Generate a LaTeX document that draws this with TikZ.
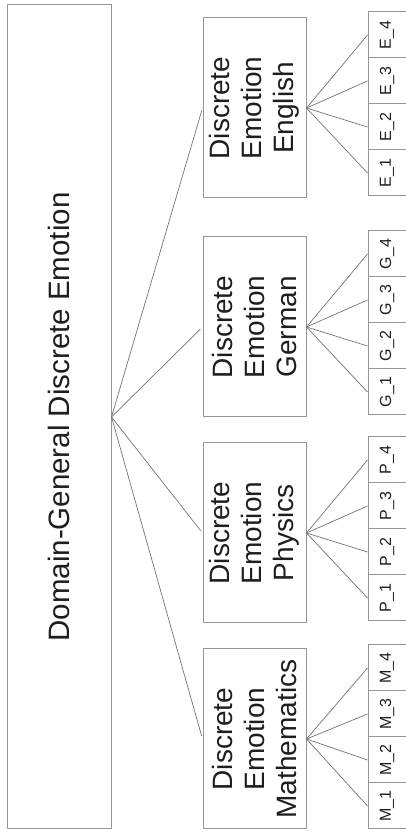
\documentclass[tikz,border=0pt]{standalone}
\usepackage{fontspec}
\setmainfont{Liberation Sans}
\definecolor{boxgray}{RGB}{150,150,150}
\definecolor{linegray}{RGB}{115,115,115}
\definecolor{txt}{RGB}{30,30,30}
\begin{document}
\begin{tikzpicture}[x=1pt,y=1pt,
  bigbox/.style={draw=boxgray,line width=1pt,minimum width=104pt,minimum height=824pt,inner sep=0pt},
  catbox/.style={draw=boxgray,line width=1pt,minimum width=103pt,minimum height=180pt,inner sep=0pt},
  itembox/.style={draw=boxgray,line width=1pt,minimum width=38pt,minimum height=46pt,inner sep=0pt},
  conn/.style={draw=linegray,line width=0.7pt},
  bigtxt/.style={rotate=90,align=center,text=txt,font=\fontsize{29.5}{34}\selectfont},
  cattxt/.style={rotate=90,align=center,text=txt,font=\fontsize{28}{32}\selectfont},
  itemtxt/.style={rotate=90,text=txt,font=\fontsize{16}{18}\selectfont}
]
\useasboundingbox (0,0) rectangle (406,832);
\node[bigbox] (root) at (59,415) {};
\node[bigtxt] (roottxt) at (root.center) {Domain-General Discrete Emotion};

% category boxes
\node[catbox] (eng) at (254.5,724) {};
\node[catbox] (ger) at (254.5,505) {};
\node[catbox] (phy) at (254.5,299) {};
\node[catbox] (mat) at (254.5,93) {};
\node[cattxt] (engtxt) at (eng.center) {Discrete\\Emotion\\English};
\node[cattxt] (gertxt) at (ger.center) {Discrete\\Emotion\\German};
\node[cattxt] (phytxt) at (phy.center) {Discrete\\Emotion\\Physics};
\node[cattxt] (mattxt) at (mat.center) {Discrete\\Emotion\\Mathematics};

% item boxes
\foreach \p/\top/\name in {E/12/eng,G/231/ger,P/437/phy,M/645/mat}{
  \foreach \i in {1,2,3,4}{
    \pgfmathsetmacro{\yc}{832-(\top+46*(4-\i)+23)}
    \node[itembox] (\name\i) at (387,\yc) {};
    \node[itemtxt] (\name\i t) at (\name\i.center) {\p\_\i};
    \draw[conn] (\name.east) -- (\name\i.west);
  }
  \draw[conn,shorten >=3pt] (root.east) -- (\name.west);
}
\end{tikzpicture}
\end{document}
